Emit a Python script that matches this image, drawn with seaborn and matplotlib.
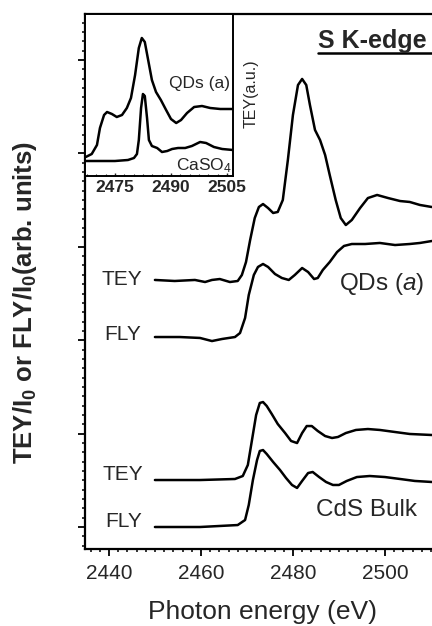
import numpy as np
import pandas as pd
import matplotlib
matplotlib.use("Agg")
import matplotlib.pyplot as plt
from matplotlib.ticker import MultipleLocator
from matplotlib.lines import Line2D
import seaborn as sns

# ---------------- data ----------------
# Main panel: QDs (a) TEY
qd_tey_e = [2450.0, 2454.3, 2458.7, 2460.9, 2462.4, 2464.1, 2466.3, 2468.0, 2468.9, 2469.8,
            2470.7, 2471.7, 2472.6, 2473.5, 2474.6, 2475.7, 2476.7, 2477.8, 2478.9, 2480.0,
            2481.1, 2482.0, 2482.9, 2483.7, 2484.8, 2485.9, 2487.0, 2488.0, 2489.3, 2490.4,
            2491.5, 2492.8, 2494.6, 2496.3, 2498.3, 2500.7, 2503.3, 2505.4, 2507.6, 2510.2]
qd_tey_v = [2.645, 2.634, 2.645, 2.623, 2.645, 2.655, 2.623, 2.634, 2.698, 2.837,
            3.073, 3.308, 3.426, 3.458, 3.415, 3.362, 3.373, 3.501, 3.929, 4.411,
            4.732, 4.797, 4.732, 4.518, 4.251, 4.143, 3.983, 3.769, 3.501, 3.308,
            3.233, 3.287, 3.415, 3.522, 3.555, 3.522, 3.490, 3.480, 3.448, 3.426]

# QDs (a) FLY
qd_fly_e = [2450.0, 2455.4, 2459.8, 2462.4, 2464.6, 2467.4, 2468.5, 2469.6, 2470.4, 2471.5,
            2472.4, 2473.5, 2474.6, 2476.1, 2477.6, 2479.1, 2480.4, 2482.0, 2483.3, 2484.6,
            2485.4, 2486.5, 2488.0, 2489.6, 2491.1, 2492.8, 2495.7, 2498.9, 2502.2, 2505.4,
            2507.6, 2510.2]
qd_fly_v = [2.034, 2.034, 2.024, 1.991, 2.013, 2.034, 2.077, 2.238, 2.484, 2.698,
            2.784, 2.816, 2.784, 2.709, 2.666, 2.645, 2.698, 2.773, 2.730, 2.655,
            2.666, 2.752, 2.837, 2.944, 3.009, 3.030, 3.030, 3.041, 3.019, 3.030,
            3.041, 3.062]

# CdS bulk TEY
cds_tey_e = [2450.0, 2459.8, 2467.4, 2469.1, 2470.2, 2471.1, 2472.0, 2472.8, 2473.5, 2474.3,
             2475.4, 2476.7, 2478.3, 2479.6, 2480.9, 2482.0, 2483.0, 2484.1, 2485.4, 2487.0,
             2488.5, 2489.8, 2491.5, 2493.7, 2496.3, 2498.9, 2502.2, 2505.4, 2510.2]
cds_tey_v = [0.503, 0.503, 0.514, 0.546, 0.664, 0.931, 1.199, 1.328, 1.338, 1.296,
             1.210, 1.103, 1.006, 0.921, 0.899, 1.006, 1.081, 1.081, 1.028, 0.974,
             0.953, 0.964, 1.006, 1.039, 1.049, 1.039, 1.017, 0.996, 0.985]

# CdS bulk FLY
cds_fly_e = [2450.0, 2459.8, 2468.0, 2469.6, 2470.4, 2471.3, 2472.2, 2472.8, 2473.5, 2474.3,
             2475.7, 2477.2, 2478.5, 2479.8, 2480.9, 2482.0, 2483.3, 2484.3, 2485.7, 2487.2,
             2488.7, 2490.0, 2491.7, 2493.9, 2496.7, 2500.0, 2503.3, 2506.5, 2510.2]
cds_fly_v = [0.000, 0.000, 0.021, 0.075, 0.236, 0.503, 0.717, 0.814, 0.824, 0.782,
             0.696, 0.610, 0.525, 0.450, 0.418, 0.493, 0.578, 0.589, 0.535, 0.482,
             0.450, 0.450, 0.493, 0.535, 0.546, 0.535, 0.514, 0.493, 0.482]

# Inset: QDs (a) TEY and CaSO4 TEY (a.u.)
in_qd_e = [2467.2, 2468.8, 2470.2, 2471.0, 2472.1, 2472.9, 2474.2, 2475.5, 2476.9, 2478.2,
           2479.3, 2480.4, 2481.4, 2482.2, 2483.0, 2483.8, 2484.9, 2486.0, 2487.3, 2488.7,
           2490.0, 2491.4, 2492.7, 2494.3, 2496.2, 2498.3, 2500.5, 2503.2, 2506.6]
in_qd_v = [19, 22, 31, 48, 61, 64, 62, 59, 61, 68,
           78, 101, 128, 138, 134, 118, 96, 84, 76, 66,
           57, 53, 56, 63, 69, 70, 68, 67, 67]
in_caso4_e = [2467.2, 2471.0, 2475.0, 2478.5, 2480.1, 2480.9, 2481.4, 2482.0, 2482.5, 2483.0,
              2483.6, 2484.1, 2484.9, 2486.3, 2487.6, 2489.0, 2490.3, 2491.9, 2493.8, 2495.6,
              2497.8, 2499.4, 2501.5, 2503.7, 2506.6]
in_caso4_v = [15, 15, 15, 16, 18, 22, 36, 68, 82, 80,
              58, 36, 30, 28, 24, 25, 27, 28, 28, 30,
              34, 33, 29, 27, 26]

main_xticks = [2440, 2460, 2480, 2500]
inset_xticks = [2475, 2490, 2505]

# ---------------- style ----------------
sns.set_style("ticks")
plt.rcParams["font.family"] = ["Liberation Sans", "DejaVu Sans"]
plt.rcParams["mathtext.fontset"] = "custom"
plt.rcParams["mathtext.rm"] = "Liberation Sans"
plt.rcParams["mathtext.it"] = "Liberation Sans:italic"
plt.rcParams["mathtext.bf"] = "Liberation Sans:bold"

W, H = 432, 626
fig = plt.figure(figsize=(W / 100, H / 100), dpi=100)
fig.patch.set_facecolor("white")

# main axes: left spine at x=85px, bottom spine 549px, top 14px, 4.6 px/eV
x0 = 2434.8
x1 = 2520.0
px_per_ev = 4.6
ax_w = (x1 - x0) * px_per_ev / W
ax = fig.add_axes([85 / W, (H - 549) / H, ax_w, 535 / H])

lw = 1.8
for e, v in [(qd_tey_e, qd_tey_v), (qd_fly_e, qd_fly_v),
             (cds_tey_e, cds_tey_v), (cds_fly_e, cds_fly_v)]:
    df = pd.DataFrame({"energy": e, "signal": v})
    sns.lineplot(data=df, x="energy", y="signal", ax=ax, color="black",
                 lw=lw, sort=False, estimator=None)

ax.set_xlim(x0, x1)
ax.set_ylim(-0.2355, 5.4925)
ax.set_xticks(main_xticks)
ax.xaxis.set_minor_locator(MultipleLocator(2))
ax.yaxis.set_major_locator(MultipleLocator(1))
ax.yaxis.set_minor_locator(MultipleLocator(0.1))
ax.set_yticklabels([])
ax.set_xlabel("")
ax.set_ylabel("")
ax.tick_params(axis="both", which="major", direction="out", length=5, width=1.3,
               labelsize=15, pad=6, color="black")
ax.tick_params(axis="both", which="minor", direction="out", length=2.2, width=1.1,
               color="black")
for s in ["left", "bottom", "top", "right"]:
    ax.spines[s].set_linewidth(1.6)
    ax.spines[s].set_color("black")

tfs = 15
ax.text(2442.9, 2.591, "TEY", ha="center", va="baseline", fontsize=tfs)
ax.text(2442.9, 2.002, "FLY", ha="center", va="baseline", fontsize=tfs)
ax.text(2443.1, 0.503, "TEY", ha="center", va="baseline", fontsize=tfs)
ax.text(2443.1, 0.000, "FLY", ha="center", va="baseline", fontsize=tfs)
ax.text(2499.3, 2.537, r"QDs ($\mathit{a}$)", ha="center", va="baseline", fontsize=17.5)
ax.text(2495.9, 0.118, "CdS Bulk", ha="center", va="baseline", fontsize=17.5)

# title, underlined
fig.text(318 / W, (H - 48) / H, "S K-edge", ha="left", va="baseline",
         fontsize=18, fontweight="bold")
fig.add_artist(Line2D([318 / W, 1.0], [(H - 53) / H, (H - 53) / H],
                      transform=fig.transFigure, color="black", lw=1.8))

# axis labels
fig.text(263 / W, (H - 619) / H, "Photon energy (eV)", ha="center", va="baseline",
         fontsize=19)
fig.text(25 / W, (H - 302) / H, r"TEY/I$_\mathbf{0}$ or FLY/I$_\mathbf{0}$(arb. units)",
         ha="center", va="center", rotation=90, fontsize=18.5, fontweight="bold")

# ---------------- inset ----------------
axi = fig.add_axes([85 / W, (H - 176) / H, 148 / W, 162 / H])
axi.set_facecolor("white")
for e, v in [(in_qd_e, in_qd_v), (in_caso4_e, in_caso4_v)]:
    df = pd.DataFrame({"energy": e, "signal": v})
    sns.lineplot(data=df, x="energy", y="signal", ax=axi, color="black",
                 lw=lw, sort=False, estimator=None)
axi.set_xlim(2467.0, 2506.6)
axi.set_ylim(0, 162)
axi.set_xticks(inset_xticks)
axi.xaxis.set_minor_locator(MultipleLocator(2.5))
axi.set_yticks([])
axi.set_xlabel("")
axi.set_ylabel("")
axi.tick_params(axis="x", which="major", direction="in", length=2.5, width=1.0,
                labelsize=12.5, pad=3)
axi.tick_params(axis="x", which="minor", direction="in", length=1.5, width=0.8)
for lab in axi.get_xticklabels():
    lab.set_fontweight("bold")
for s in ["left", "bottom", "top", "right"]:
    axi.spines[s].set_linewidth(1.4)
    axi.spines[s].set_color("black")

axi.text(2505.8, 88, "QDs (a)", ha="right", va="baseline", fontsize=12.5)
axi.text(2506.2, 6, r"CaSO$_4$", ha="right", va="baseline", fontsize=12.5)
fig.text(251 / W, (H - 94) / H, "TEY(a.u.)", ha="center", va="center",
         rotation=90, fontsize=11.5)

fig.savefig("out.png", dpi=100)
